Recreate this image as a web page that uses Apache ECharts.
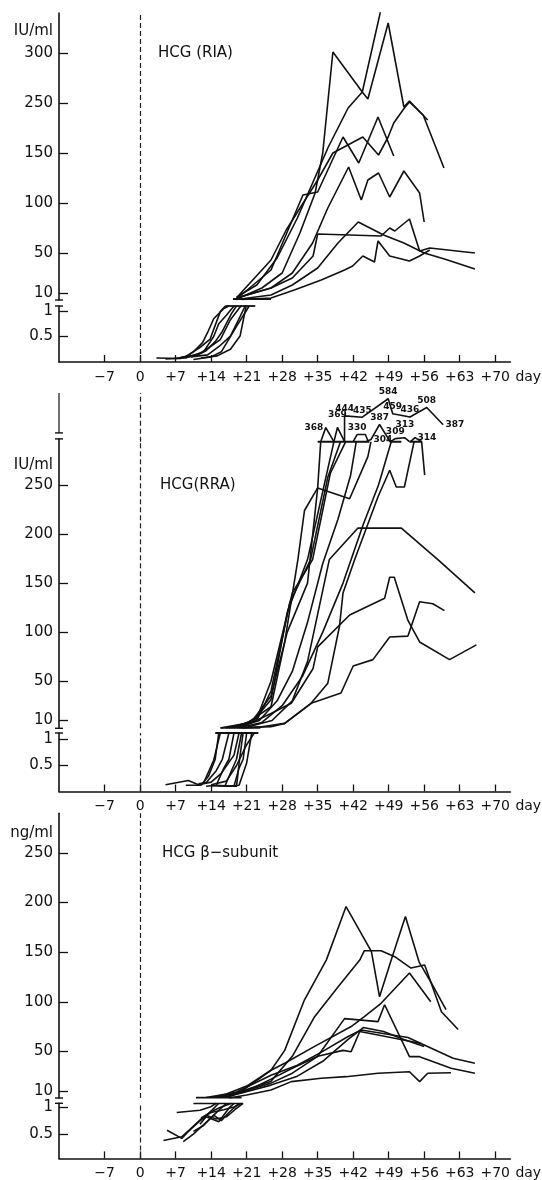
<!DOCTYPE html>
<html><head><meta charset="utf-8">
<script src="https://cdn.jsdelivr.net/npm/echarts@6/dist/echarts.min.js"></script>
<style>html,body{margin:0;padding:0;background:#fff}#c{width:542px;height:1180px}</style>
</head><body><div id="c"></div>
<script>
// ---------- tick labels ----------
const dayTicks = [-7,0,7,14,21,28,35,42,49,56,63,70];
const upperTickPos = [10,50,100,150,200,250];
const riaTickText = ['10','50','100','150','250','300'];
const rraTickText = ['10','50','100','150','200','250'];
const betaTickText = ['10','50','100','150','200','250'];
const lowerTickPos = [0.5,1];
const lowerTickText = ['0.5','1'];

// ---------- HCG (RIA), IU/ml : [day, value] ----------
const riaLow = [
 [[3.2,0.08],[8,0.07],[9.5,0.14],[12,0.3],[13.8,0.45],[15.8,0.99],[16.8,1.1]],
 [[9,0.1],[10.5,0.2],[12.3,0.38],[13.3,0.58],[14.5,0.85],[16.5,1.05],[17.5,1.1]],
 [[7,0.07],[11.5,0.15],[13.8,0.3],[15.8,0.44],[17.8,0.83],[19.7,1.08],[20,1.1]],
 [[10,0.1],[13.3,0.14],[15.5,0.3],[17.8,0.51],[19.7,0.89],[20.7,1.1]],
 [[12,0.08],[15.2,0.12],[17.8,0.25],[19.7,0.51],[20.9,1.1]],
 [[5,0.06],[9,0.08],[12.5,0.2],[14.5,0.5],[15.5,0.75],[17,0.92],[18.5,1.1]],
 [[8,0.09],[11,0.12],[13,0.22],[14.8,0.4],[16.2,0.6],[18,0.95],[19,1.1]],
 [[10.5,0.05],[14,0.1],[16,0.2],[17.5,0.45],[19,0.7],[21.5,1.1]]
];
const riaUp = [
 [[19.5,5],[24,15],[28,30],[31.5,70],[34.5,110],[36,150],[38,251],[43.8,211],[44.9,204],[48.9,280],[52,196],[53.1,202],[56.7,183]],
 [[19,6],[23,18],[27,45],[31,85],[34,120],[37.1,156],[41,195],[43.8,211],[47.5,294],[48.6,330]],
 [[19,4],[25.8,33],[32.1,108],[35,111],[40,166],[43.1,140],[46.9,186],[50,147]],
 [[19,5],[25.8,15],[30,30],[34,60],[37,95],[41.1,136],[43.6,103],[44.9,123],[47,130],[49.2,106],[52,132],[55.1,110],[56,81]],
 [[19.5,8],[25.8,43],[28.8,73],[35,123],[38,150],[43.9,166],[47,148],[48.9,166],[50,180],[52.1,195],[53.1,201],[55.8,188],[59.9,135]],
 [[19,5],[25.8,15],[30,25],[34.1,47],[35,69],[47.5,67],[49.2,75],[50.2,72],[53.1,84],[55.1,52],[57.1,55],[66,50]],
 [[19,3.5],[25.8,8],[30,18],[35,35],[39,60],[43,81],[48,68],[52,60],[56,50],[60,44],[66,34]],
 [[20,3.5],[25.8,5],[30.4,13],[35.7,23],[40.3,33],[41.9,37],[43.9,47],[46.2,41],[46.9,62],[49.2,47],[53.1,42],[55.1,47],[57.1,53]]
];
const riaBarLow = [[16.8,1.1],[22.7,1.1]];
const riaBarUp = [[18.3,4],[25.8,4]];

// ---------- HCG (RRA), IU/ml ----------
const rraLow = [
 [[5,0.13],[9.5,0.21],[11.5,0.13],[12.5,0.16],[14.5,0.6],[15.8,1.125]],
 [[9,0.12],[12,0.12],[13.5,0.3],[14.8,0.62],[15.5,1.125]],
 [[11.5,0.15],[13,0.17],[15,0.4],[16.2,0.62],[17.5,1.125]],
 [[13,0.1],[15,0.12],[16.5,0.45],[17.5,0.62],[18.5,1.125]],
 [[14,0.11],[16.7,0.1],[18,0.4],[19,0.62],[20,1.125]],
 [[15,0.12],[18.5,0.1],[19.5,0.45],[20.3,0.62],[21,1.125]],
 [[16.5,0.1],[19,0.1],[19.6,0.62],[20.3,1.125]],
 [[12,0.14],[14,0.18],[16,0.35],[18.5,0.7],[19.5,1.125]],
 [[14,0.13],[17,0.2],[19,0.5],[21,0.9],[22.5,1.125]],
 [[17,0.1],[19.5,0.12],[21,0.55],[22,1.125]]
];
const rraUp = [
 [[16,2.5],[21,7],[25.8,24],[28.5,90],[31.1,174],[32.4,224],[35,247],[35.6,294]],
 [[17,2.5],[22,8],[25.8,31],[29,120],[33,174],[36.5,255],[38.2,294]],
 [[18,2.5],[23,10],[25.8,40],[29.5,130],[33.6,174],[37,258],[39.5,294]],
 [[18.5,2.5],[23,12],[25.8,50],[30,140],[34,174],[37.5,262],[40.5,294]],
 [[17.5,2.5],[22,9],[25.8,35],[29,100],[33,150],[35,247],[41.3,236],[44.9,279],[45.5,294]],
 [[19,2.5],[23.5,10],[27,30],[30,60],[33,110],[36,170],[39,215],[41.5,260],[42.6,294]],
 [[20,2.5],[24,3.5],[28.5,7],[33.7,27.5],[37,48],[39.3,106],[40,140],[42.3,174],[46.9,238],[49.2,265],[50.5,248],[52.1,248],[54,294]],
 [[19.5,2.5],[24,8],[28,25],[32,55],[36,100],[40,150],[44,210],[47,250],[49.5,294]],
 [[55.5,294],[56.1,260]],
 [[21,3],[26,10],[30,30],[33,70],[37.3,174],[42.9,206],[51.5,206],[58.7,174],[66,140]],
 [[20,3],[25.8,17],[29.8,27.5],[34.1,63],[35,85],[41.3,117.5],[48.2,134.5],[49.2,156],[50.1,156],[52.8,112],[55.1,90],[61,72],[66.3,87]],
 [[20,2.5],[25.8,3.7],[28.5,7],[33.7,27.5],[39.6,38],[42,65.5],[45.9,72],[49.2,95],[52.8,96],[55.1,131],[57.7,129],[60,122]]
];
// values above the cut-off, each point [day, value, label side]
const rraTop = [
 [[35.6,294,''],[36.6,368,'l'],[38.2,294,'']],
 [[38.2,294,''],[38.9,369,'T'],[40.3,294,'']],
 [[40.3,294,''],[40.3,444,'t'],[43.8,435,'t'],[48.9,584,'t'],[49.8,459,'t'],[53.2,436,'t'],[56.5,508,'t'],[59.7,387,'r']],
 [[42,294,''],[42.8,330,'t'],[44.4,330,''],[45,294,'']],
 [[44.5,294,''],[45.5,304,'r'],[47.2,387,'t'],[49.3,294,'']],
 [[49.3,294,''],[50.3,309,'t'],[52.2,313,'T'],[53.1,294,'']],
 [[53.3,294,''],[54.2,314,'r'],[55.5,294,'']]
];
const rraCutBars = [
 [[35,294],[45.2,294]],
 [[49.2,294],[51.5,294]],
 [[53.1,294],[55.6,294]]
];
const rraBarLow = [[14.8,1.125],[23.3,1.125]];
const rraBarUp = [[15.8,2.5],[23.7,2.5]];

// ---------- HCG beta-subunit, ng/ml ----------
const betaLow = [
 [[4.6,0.38],[8.2,0.45],[10,0.6],[12,0.78],[14,0.92],[16,1.0],[18,1.07]],
 [[5.3,0.57],[8.2,0.42],[9.5,0.55],[11.5,0.72],[13.5,0.88],[15.5,1.07]],
 [[7.2,0.9],[11.8,0.94],[13.8,1.0],[15,1.07]],
 [[8.5,0.36],[10.5,0.5],[12.8,0.7],[15.5,0.94],[17,1.07]],
 [[11.8,0.68],[13,0.82],[15.5,0.73],[17.5,0.98],[18.5,1.07]],
 [[10.5,0.55],[12.5,0.66],[14.5,0.85],[16,0.75],[17.5,0.9],[19.5,1.07]],
 [[12,0.8],[14,0.9],[16.5,0.95],[18.5,1.0],[20,1.07]],
 [[13,0.85],[15,0.78],[17,0.82],[18.8,0.96],[20.3,1.07]]
];
const betaUp = [
 [[13,3.5],[17,7],[21,15],[25.8,31],[28.5,51],[32.4,102],[36.7,142],[40.6,196],[45.6,150.5],[47.2,105],[49.5,142],[52.3,186],[55,140],[57.3,120],[60.3,92]],
 [[15,3.5],[19,8],[25.8,20],[30,45],[34.4,85],[39,115],[43.3,142],[44.2,151.5],[47.5,151.5],[50.2,145.5],[53.4,134],[56.1,137],[59.4,90],[62.7,72]],
 [[16.5,4],[20,10],[25.8,31],[28.5,38],[34.4,55],[41.6,75],[44.2,85],[47.5,98.5],[53.1,129],[57.3,100]],
 [[15.5,3.5],[20,9],[25.8,18],[30,28],[35,45],[40.3,83],[46.9,80],[48.2,97],[53.1,44.7],[55.1,44.7],[61.3,33],[66,28]],
 [[17,3.5],[21,10],[25.8,22],[30,33],[35,45],[40,51],[41.6,49.7],[43.3,70],[46.9,66.5],[55.4,58]],
 [[14.5,4],[19,9],[25.8,26],[31,36],[36,50],[41,65],[43.6,71.6],[52.8,64],[61.7,43],[66,38]],
 [[17.5,3],[21,6],[25.8,11],[29.8,19.5],[35.7,22.9],[40.6,24.5],[46.9,27.9],[53.1,29.5],[55.1,19.5],[56.7,27.9],[61.3,28.5]],
 [[16,4],[20,8],[25.8,16],[31,25],[36,40],[41,62],[44,74],[48,70],[52,62],[56,55]]
];
const betaBarLow = [[10.5,1.07],[20.3,1.07]];
const betaBarUp = [[11,3.3],[20,3.3]];

// ---------- layout ----------
const FONT = 'DejaVu Sans';
const INK = '#111';
const LW = 1.6;
const LEFT = 59, WIDTH = 451.4;
const GRIDS = [
 {top:13,     height:287,   min:3,    max:290,   kind:'up',  ticks:riaTickText},   // 0 RIA upper
 {top:306,    height:56,    min:0,    max:1.1,   kind:'low'},                      // 1 RIA lower
 {top:393,    height:48.7,  min:294,  max:640,   kind:'top'},                      // 2 RRA above cut-off
 {top:438.9,  height:289.4, min:2,    max:297,   kind:'up',  ticks:rraTickText},   // 3 RRA upper
 {top:733,    height:58.5,  min:0,    max:1.125, kind:'low'},                      // 4 RRA lower
 {top:813.3,  height:284.7, min:3,    max:290,   kind:'up',  ticks:betaTickText},  // 5 beta upper
 {top:1103.3, height:55.1,  min:0.05, max:1.07,  kind:'low'}                       // 6 beta lower
];

function fmtDay(v){ return v === 0 ? '0' : (v > 0 ? '+' + v : '\u2212' + Math.abs(v)); }

const grid = GRIDS.map(g => ({left:LEFT, width:WIDTH, top:g.top, height:g.height, outerBoundsMode:'none', containLabel:false}));

const xAxis = GRIDS.map((g,i) => {
  const base = {type:'value', gridIndex:i, min:-16, max:73, splitLine:{show:false}};
  if (g.kind !== 'low') return Object.assign(base, {show:false});
  return Object.assign(base, {
    axisLine:{show:true, onZero:false, lineStyle:{color:INK, width:1.6}},
    axisTick:{show:true, inside:true, length:7, customValues:dayTicks, lineStyle:{color:INK, width:1.3}},
    axisLabel:{show:true, customValues:dayTicks, formatter:fmtDay, color:INK, fontSize:14, fontFamily:FONT, margin:8},
    name:'day', nameLocation:'end', nameGap:5,
    nameTextStyle:{color:INK, fontSize:14, fontFamily:FONT, verticalAlign:'top', padding:[8,0,0,0]}
  });
});

const yAxis = GRIDS.map((g,i) => {
  if (g.kind === 'top') {
    return {type:'log', gridIndex:i, min:g.min, max:g.max, axisLine:{show:false}, axisTick:{show:false}, axisLabel:{show:false}, splitLine:{show:false}};
  }
  const pos = g.kind === 'up' ? upperTickPos : lowerTickPos;
  const txt = g.kind === 'up' ? g.ticks : lowerTickText;
  return {
    type:'value', gridIndex:i, min:g.min, max:g.max, splitLine:{show:false},
    axisLine:{show:true, onZero:false, lineStyle:{color:INK, width:1.6}},
    axisTick:{show:true, inside:true, length:9, customValues:pos, lineStyle:{color:INK, width:1.3}},
    axisLabel:{show:true, customValues:pos, margin:6, color:INK, fontSize:15, fontFamily:FONT,
      formatter: v => { const k = pos.findIndex(p => Math.abs(p - v) < 1e-9); return k >= 0 ? txt[k] : ''; }}
  };
});

const series = [];
const hasMark = {};
const zeroLine = () => ({silent:true, symbol:['none','none'], label:{show:false}, animation:false,
  lineStyle:{type:[5,3], color:'#222', width:1.2}, data:[{xAxis:0}]});
function addLine(data, gi, w){
  const s = {type:'line', xAxisIndex:gi, yAxisIndex:gi, data:data, symbol:'none', showSymbol:false,
    clip:true, silent:true, animation:false, lineStyle:{color:INK, width:w || LW}, z:3};
  if (!hasMark[gi]) { hasMark[gi] = true; s.markLine = zeroLine(); }
  series.push(s);
}
const POS = {t:'top', T:'top', l:'left', r:'right', b:'bottom'};
function addTop(pts, gi){
  const data = pts.map(p => p[2]
    ? {value:[p[0],p[1]], symbol:'circle', symbolSize:1,
       label:{show:true, position:POS[p[2]], distance:(p[2] === 'T' ? 8 : 2), formatter:String(p[1])}}
    : {value:[p[0],p[1]], symbol:'none'});
  const s = {type:'line', xAxisIndex:gi, yAxisIndex:gi, data:data, symbol:'none', showSymbol:true,
    clip:false, silent:true, animation:false, lineStyle:{color:INK, width:LW}, itemStyle:{color:INK},
    label:{show:false, fontSize:9, fontWeight:'bold', fontFamily:FONT, color:INK, distance:2}, z:3};
  if (!hasMark[gi]) { hasMark[gi] = true; s.markLine = zeroLine(); }
  series.push(s);
}

riaUp.forEach(d => addLine(d, 0));
riaLow.forEach(d => addLine(d, 1));
addLine(riaBarUp, 0, 1.8); addLine(riaBarLow, 1, 1.8);

rraTop.forEach(d => addTop(d, 2));
rraUp.forEach(d => addLine(d, 3));
rraCutBars.forEach(d => addLine(d, 3, 2));
rraLow.forEach(d => addLine(d, 4));
addLine(rraBarUp, 3, 1.8); addLine(rraBarLow, 4, 1.8);

betaUp.forEach(d => addLine(d, 5));
betaLow.forEach(d => addLine(d, 6));
addLine(betaBarUp, 5, 1.8); addLine(betaBarLow, 6, 1.8);

// ---------- decorations: units, titles, axis breaks ----------
function txt(x, y, s, size, align){
  return {type:'text', x:x, y:y, silent:true,
    style:{text:s, fill:INK, font:size + 'px "' + FONT + '"', align:align || 'left', verticalAlign:'middle'}};
}
function seg(x1, y1, x2, y2, w){
  return {type:'line', silent:true, shape:{x1:x1, y1:y1, x2:x2, y2:y2}, style:{stroke:INK, lineWidth:w || 1.4}};
}
function cap(y){ return seg(LEFT - 4, y, LEFT + 4, y, 1.4); }
const bottom = g => g.top + g.height;
const graphic = [
  txt(53, 31, 'IU/ml', 15, 'right'),
  txt(53, 465, 'IU/ml', 15, 'right'),
  txt(53, 833, 'ng/ml', 15, 'right'),
  txt(158, 53, 'HCG (RIA)', 15),
  txt(160, 485, 'HCG(RRA)', 15),
  txt(162, 853, 'HCG \u03b2\u2212subunit', 15),
  cap(bottom(GRIDS[0])), cap(GRIDS[1].top),
  seg(LEFT, GRIDS[2].top, LEFT, GRIDS[3].top - 6, 1.2), cap(GRIDS[3].top - 6), cap(GRIDS[3].top),
  cap(bottom(GRIDS[3])), cap(GRIDS[4].top),
  cap(bottom(GRIDS[5])), cap(GRIDS[6].top)
];

const chart = echarts.init(document.getElementById('c'), null, {renderer:'canvas'});
chart.setOption({backgroundColor:'#fff', animation:false, grid, xAxis, yAxis, series, graphic});
</script></body></html>
